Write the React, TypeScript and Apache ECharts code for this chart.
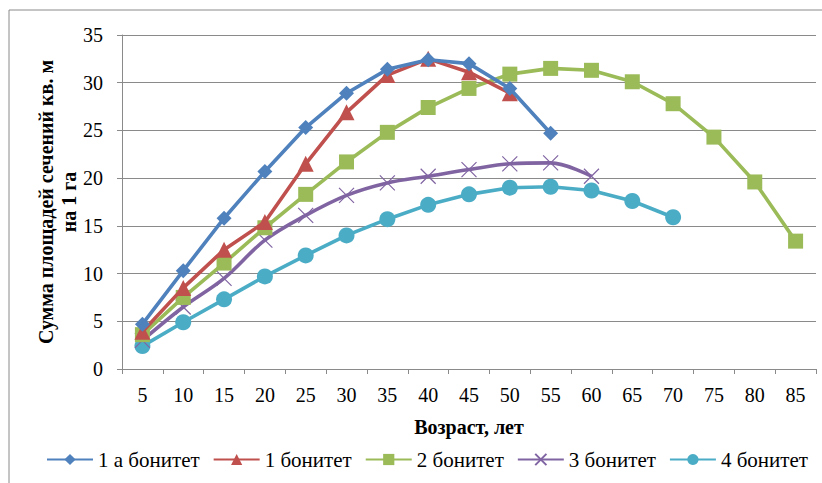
import React, { useEffect, useRef } from "react";
import * as echarts from "echarts";

const ages = ["5", "10", "15", "20", "25", "30", "35", "40", "45", "50", "55", "60", "65", "70", "75", "80", "85"];
const s1a = [4.7, 10.3, 15.8, 20.7, 25.3, 28.9, 31.4, 32.4, 32.0, 29.4, 24.7];
const s1 = [3.9, 8.5, 12.5, 15.4, 21.5, 26.9, 30.8, 32.5, 31.1, 28.9];
const s2 = [3.6, 7.5, 11.1, 14.8, 18.3, 21.7, 24.8, 27.4, 29.4, 30.9, 31.5, 31.3, 30.1, 27.8, 24.3, 19.6, 13.4];
const s3 = [3.0, 6.5, 9.5, 13.5, 16.1, 18.2, 19.5, 20.2, 20.9, 21.5, 21.6, 20.2];
const s4 = [2.4, 4.9, 7.3, 9.7, 11.9, 14.0, 15.7, 17.2, 18.3, 19.0, 19.1, 18.7, 17.6, 15.9];
const seriesNames = ["1 а бонитет", "1 бонитет", "2 бонитет", "3 бонитет", "4 бонитет"];
const yTitle = "Сумма площадей сечений кв. м\nна 1 га";
const xTitle = "Возраст, лет";

const FONT = "Liberation Serif";
const GRID = "#8a8a8a";

export default function App() {
  const ref = useRef<HTMLDivElement>(null);
  useEffect(() => {
    document.body.style.margin = "0";
    if (!ref.current) return;
    const chart = echarts.init(ref.current, undefined, { renderer: "svg" });
    const mk = (name: string, data: number[], color: string, symbol: string, size: number, extra: any = {}) => ({
      name,
      type: "line",
      data,
      symbol,
      symbolSize: size,
      showSymbol: true,
      lineStyle: { color, width: 3.6 },
      itemStyle: { color, borderColor: color, borderWidth: 0, ...(extra.itemStyle || {}) },
      smooth: extra.smooth || false,
      z: extra.z || 2,
    });
    chart.setOption({
      animation: false,
      backgroundColor: "#fff",
      textStyle: { fontFamily: FONT },
      graphic: [
        {
          type: "rect",
          shape: { x: 9, y: 10, width: 900, height: 600 },
          style: { fill: "none", stroke: "#8a8a8a", lineWidth: 1 },
          silent: true,
        },
      ],
      grid: { left: 122, right: 6, top: 35, bottom: 114, containLabel: false },
      xAxis: {
        type: "category",
        data: ages,
        boundaryGap: true,
        name: xTitle,
        nameLocation: "middle",
        nameGap: 48,
        nameMoveOverlap: false,
        nameTextStyle: { fontFamily: FONT, fontWeight: "bold", fontSize: 20, color: "#000" },
        axisLine: { show: true, lineStyle: { color: GRID, width: 1 } },
        axisTick: { show: true, inside: false, length: 5, lineStyle: { color: GRID } },
        axisLabel: { fontFamily: FONT, fontSize: 20, color: "#000", margin: 16 },
        splitLine: { show: false },
      },
      yAxis: {
        type: "value",
        min: 0,
        max: 35,
        interval: 5,
        name: yTitle,
        nameLocation: "middle",
        nameGap: 42,
        nameMoveOverlap: false,
        nameTextStyle: { fontFamily: FONT, fontWeight: "bold", fontSize: 20, color: "#000", lineHeight: 23 },
        axisLine: { show: true, lineStyle: { color: GRID, width: 1 } },
        axisTick: { show: true, inside: false, length: 5, lineStyle: { color: GRID } },
        axisLabel: { fontFamily: FONT, fontSize: 20, color: "#000", margin: 19 },
        splitLine: { show: true, lineStyle: { color: GRID, width: 1 } },
      },
      legend: {
        data: seriesNames,
        left: 46,
        top: 449,
        padding: 0,
        itemWidth: 46,
        itemHeight: 14,
        itemGap: 13,
        textStyle: { fontFamily: FONT, fontSize: 21, color: "#000" },
      },
      series: [
        mk(seriesNames[0], s1a, "#4F81BD", "diamond", 15, { z: 6 }),
        mk(seriesNames[1], s1, "#C0504D", "triangle", 16, { z: 5 }),
        mk(seriesNames[2], s2, "#9BBB59", "rect", 15, { z: 4 }),
        mk(seriesNames[3], s3, "#8064A2", "path://M0,0 L10,10 M10,0 L0,10", 15, {
          smooth: 0.35,
          z: 3,
          itemStyle: { borderWidth: 1.2 },
        }),
        mk(seriesNames[4], s4, "#4BACC6", "circle", 16, { z: 2 }),
      ],
    });
    return () => chart.dispose();
  }, []);
  return <div ref={ref} style={{ width: 822, height: 483 }} />;
}
